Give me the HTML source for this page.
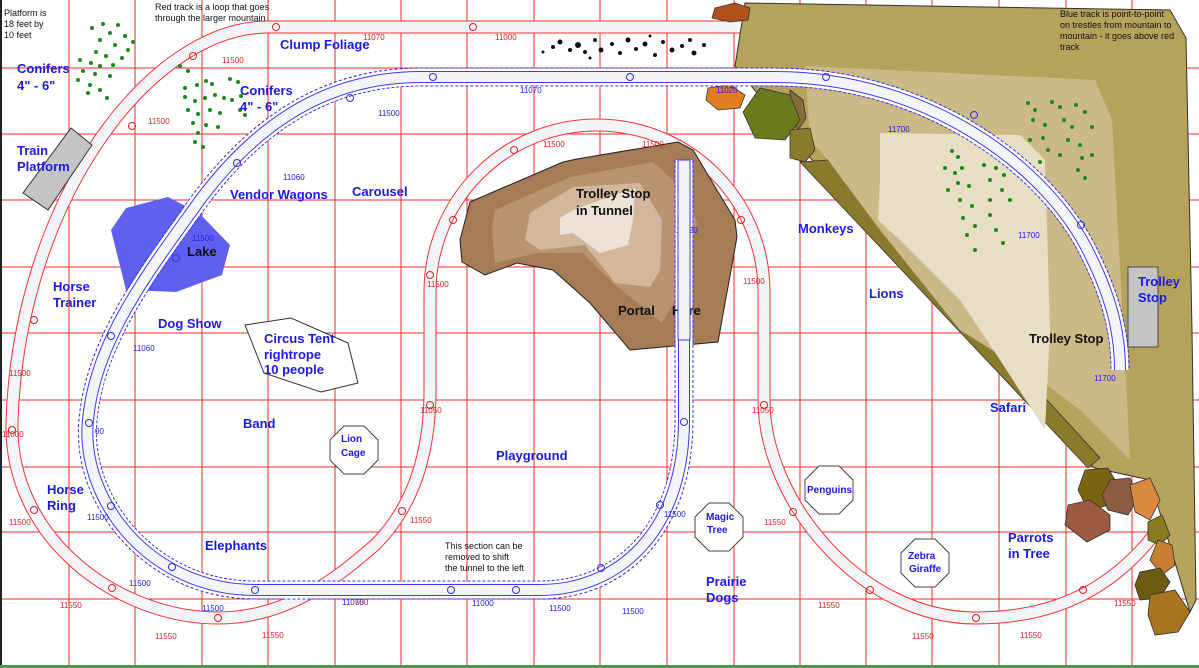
<!DOCTYPE html>
<html><head><meta charset="utf-8"><style>
html,body{margin:0;padding:0;background:#fff}
svg{display:block}
.b{font-family:"Liberation Sans",sans-serif;font-weight:bold;fill:#1a1aee;font-size:13px}
.k{font-family:"Liberation Sans",sans-serif;font-weight:bold;fill:#111;font-size:13px}
.s{font-family:"Liberation Sans",sans-serif;fill:#111;font-size:9px}
.r{font-family:"Liberation Sans",sans-serif;fill:#e02020;font-size:8px}
.u{font-family:"Liberation Sans",sans-serif;fill:#2020e0;font-size:8px}
</style></head><body>
<svg width="1199" height="668" viewBox="0 0 1199 668" xmlns="http://www.w3.org/2000/svg">
<defs>
<path id="rt" d="M740 27 L268 27 C150 27 20 200 12 420 C8 540 120 618 218 618 C290 618 340 575 375 545 C415 505 430 450 430 390 L430 292 A167 167 0 0 1 764 292 L764 400 C764 500 860 618 976 618 C1060 618 1120 585 1165 520" fill="none"/>
<path id="bt" d="M684 160 L684 420 C684 530 620 590 540 590 L255 590 C150 590 80 500 88 420 C95 340 150 270 200 200 C260 120 330 77 421 77 L775 77 C930 77 1050 170 1090 255 C1115 305 1120 340 1120 370" fill="none"/>
</defs>
<rect width="1199" height="668" fill="#fff"/>
<g stroke="#ff2a2a" stroke-width="1">
<path d="M69 0V666M135 0V666M202 0V666M268 0V666M335 0V666M401 0V666M467 0V666M534 0V666M600 0V666M667 0V666M734 0V666M800 0V666M866 0V666M932 0V666M999 0V666M1066 0V666M1132 0V666"/>
<path d="M0 68H1199M0 134H1199M0 200H1199M0 267H1199M0 333H1199M0 400H1199M0 467H1199M0 532H1199M0 599H1199"/>
</g>
<rect x="0" y="0" width="2" height="668" fill="#222"/>
<rect x="0" y="665" width="1199" height="3" fill="#4a9a4a"/>
<!-- red track -->
<use href="#rt" stroke="#ff3030" stroke-width="13"/>
<use href="#rt" stroke="#f3f5f8" stroke-width="11"/>
<g fill="none" stroke="#e02020" stroke-width="1">
<circle cx="276" cy="27" r="3.5"/><circle cx="473" cy="27" r="3.5"/><circle cx="193" cy="56" r="3.5"/><circle cx="132" cy="126" r="3.5"/><circle cx="34" cy="320" r="3.5"/><circle cx="12" cy="430" r="3.5"/><circle cx="34" cy="510" r="3.5"/><circle cx="112" cy="588" r="3.5"/><circle cx="218" cy="618" r="3.5"/><circle cx="402" cy="511" r="3.5"/><circle cx="430" cy="405" r="3.5"/><circle cx="430" cy="275" r="3.5"/><circle cx="453" cy="220" r="3.5"/><circle cx="514" cy="150" r="3.5"/><circle cx="681" cy="150" r="3.5"/><circle cx="741" cy="220" r="3.5"/><circle cx="764" cy="405" r="3.5"/><circle cx="793" cy="512" r="3.5"/><circle cx="870" cy="590" r="3.5"/><circle cx="976" cy="618" r="3.5"/><circle cx="1083" cy="590" r="3.5"/>
</g>
<!-- black dots clump -->
<g fill="#111">
<circle cx="553" cy="47" r="2"/><circle cx="560" cy="42" r="2.5"/><circle cx="570" cy="50" r="2"/><circle cx="578" cy="45" r="3"/><circle cx="585" cy="52" r="2"/><circle cx="595" cy="40" r="2"/><circle cx="601" cy="50" r="2.5"/><circle cx="612" cy="44" r="2"/><circle cx="620" cy="53" r="2"/><circle cx="628" cy="40" r="2.5"/><circle cx="636" cy="49" r="2"/><circle cx="645" cy="44" r="2.5"/><circle cx="655" cy="55" r="2"/><circle cx="663" cy="42" r="2"/><circle cx="672" cy="50" r="2.5"/><circle cx="682" cy="46" r="2"/><circle cx="690" cy="40" r="2"/><circle cx="694" cy="53" r="2.5"/><circle cx="704" cy="45" r="2"/><circle cx="543" cy="52" r="1.5"/><circle cx="590" cy="58" r="1.5"/><circle cx="650" cy="36" r="1.5"/>
</g>
<!-- right mountain -->
<polygon points="745,3 1170,10 1186,38 1192,330 1196,600 1190,612 1150,480 1095,468 1085,462 805,152 735,66" fill="#b5a25b" stroke="#333" stroke-width="1"/>
<polygon points="800,162 828,160 1100,458 1088,468" fill="#8a7a2c" stroke="#333" stroke-width="0.8"/>
<polygon points="805,66 1095,80 1112,120 1125,360 1130,460 1080,410 1040,380 960,330 880,230 828,160 810,140" fill="#cbba88"/>
<polygon points="880,133 1020,135 1045,160 1050,330 1045,430 1000,360 960,300 900,240 878,220 880,180" fill="#e7dec4"/>
<!-- rocks top -->
<polygon points="715,8 735,3 750,8 748,20 730,22 712,18" fill="#b0501a" stroke="#333" stroke-width="0.8"/>
<polygon points="708,88 730,85 745,95 740,108 718,110 706,100" fill="#e07d22" stroke="#333" stroke-width="0.8"/>
<polygon points="790,90 803,100 806,118 798,130 790,118" fill="#8b6a3a" stroke="#333" stroke-width="0.8"/>
<polygon points="760,88 790,95 800,120 785,140 755,138 743,112" fill="#6b7a1c" stroke="#333" stroke-width="0.8"/>
<polygon points="790,130 810,128 815,150 805,162 790,158" fill="#8a7a2c" stroke="#333" stroke-width="0.8"/>
<!-- rocks bottom right -->
<polygon points="1085,470 1108,468 1118,485 1110,505 1088,510 1078,490" fill="#7a6410" stroke="#333" stroke-width="0.8"/>
<polygon points="1068,505 1090,500 1110,515 1110,530 1087,542 1065,525" fill="#9c5a40" stroke="#333" stroke-width="0.8"/>
<polygon points="1110,480 1130,478 1138,498 1128,515 1108,510 1102,495" fill="#8c5c40" stroke="#333" stroke-width="0.8"/>
<polygon points="1130,485 1150,478 1160,500 1150,520 1135,512" fill="#d98a40" stroke="#333" stroke-width="0.8"/>
<polygon points="1148,522 1162,515 1170,535 1160,545 1148,540" fill="#8a7a20" stroke="#333" stroke-width="0.8"/>
<polygon points="1158,540 1172,545 1175,565 1162,575 1150,560" fill="#c88030" stroke="#333" stroke-width="0.8"/>
<polygon points="1140,572 1160,568 1170,582 1160,598 1140,600 1135,585" fill="#6c5a10" stroke="#333" stroke-width="0.8"/>
<polygon points="1150,595 1175,590 1190,612 1178,632 1155,635 1148,615" fill="#a87420" stroke="#333" stroke-width="0.8"/>
<!-- green trees -->
<g fill="#1a8a1a">
<circle cx="92" cy="28" r="2"/><circle cx="103" cy="24" r="2"/><circle cx="118" cy="25" r="2"/><circle cx="125" cy="36" r="2"/><circle cx="110" cy="33" r="2"/><circle cx="100" cy="40" r="2"/><circle cx="115" cy="45" r="2"/><circle cx="128" cy="50" r="2"/><circle cx="96" cy="52" r="2"/><circle cx="106" cy="56" r="2"/><circle cx="122" cy="58" r="2"/><circle cx="80" cy="60" r="2"/><circle cx="91" cy="63" r="2"/><circle cx="100" cy="66" r="2"/><circle cx="113" cy="65" r="2"/><circle cx="83" cy="71" r="2"/><circle cx="95" cy="74" r="2"/><circle cx="110" cy="76" r="2"/><circle cx="78" cy="80" r="2"/><circle cx="90" cy="85" r="2"/><circle cx="100" cy="90" r="2"/><circle cx="88" cy="93" r="2"/><circle cx="107" cy="98" r="2"/><circle cx="133" cy="42" r="2"/>
<circle cx="180" cy="66" r="2"/><circle cx="188" cy="71" r="2"/><circle cx="185" cy="88" r="2"/><circle cx="197" cy="85" r="2"/><circle cx="206" cy="81" r="2"/><circle cx="212" cy="84" r="2"/><circle cx="230" cy="79" r="2"/><circle cx="238" cy="82" r="2"/><circle cx="185" cy="97" r="2"/><circle cx="195" cy="101" r="2"/><circle cx="205" cy="98" r="2"/><circle cx="215" cy="95" r="2"/><circle cx="224" cy="98" r="2"/><circle cx="232" cy="100" r="2"/><circle cx="241" cy="96" r="2"/><circle cx="188" cy="110" r="2"/><circle cx="198" cy="114" r="2"/><circle cx="210" cy="110" r="2"/><circle cx="220" cy="113" r="2"/><circle cx="240" cy="110" r="2"/><circle cx="245" cy="115" r="2"/><circle cx="193" cy="123" r="2"/><circle cx="206" cy="125" r="2"/><circle cx="218" cy="127" r="2"/><circle cx="198" cy="133" r="2"/><circle cx="195" cy="142" r="2"/><circle cx="203" cy="147" r="2"/>
<circle cx="1028" cy="103" r="2"/><circle cx="1035" cy="110" r="2"/><circle cx="1052" cy="102" r="2"/><circle cx="1060" cy="107" r="2"/><circle cx="1076" cy="105" r="2"/><circle cx="1085" cy="112" r="2"/><circle cx="1033" cy="120" r="2"/><circle cx="1045" cy="125" r="2"/><circle cx="1064" cy="120" r="2"/><circle cx="1072" cy="127" r="2"/><circle cx="1092" cy="127" r="2"/><circle cx="1030" cy="140" r="2"/><circle cx="1043" cy="138" r="2"/><circle cx="1068" cy="140" r="2"/><circle cx="1080" cy="145" r="2"/><circle cx="1048" cy="150" r="2"/><circle cx="1060" cy="155" r="2"/><circle cx="1082" cy="158" r="2"/><circle cx="1092" cy="155" r="2"/><circle cx="1040" cy="162" r="2"/><circle cx="1078" cy="170" r="2"/><circle cx="1085" cy="178" r="2"/>
<circle cx="952" cy="151" r="2"/><circle cx="958" cy="157" r="2"/><circle cx="945" cy="168" r="2"/><circle cx="955" cy="173" r="2"/><circle cx="962" cy="168" r="2"/><circle cx="984" cy="165" r="2"/><circle cx="996" cy="168" r="2"/><circle cx="958" cy="183" r="2"/><circle cx="969" cy="186" r="2"/><circle cx="948" cy="190" r="2"/><circle cx="990" cy="180" r="2"/><circle cx="1004" cy="175" r="2"/><circle cx="960" cy="200" r="2"/><circle cx="972" cy="206" r="2"/><circle cx="990" cy="200" r="2"/><circle cx="1002" cy="190" r="2"/><circle cx="963" cy="218" r="2"/><circle cx="975" cy="226" r="2"/><circle cx="990" cy="215" r="2"/><circle cx="1010" cy="200" r="2"/><circle cx="967" cy="235" r="2"/><circle cx="996" cy="230" r="2"/><circle cx="1003" cy="243" r="2"/><circle cx="975" cy="250" r="2"/>
</g>
<!-- brown central mountain -->
<polygon points="470,202 563,162 577,159 678,142 693,150 735,220 737,237 718,342 630,350 590,303 553,270 517,263 485,275 462,262 460,240" fill="#a57c55" stroke="#222" stroke-width="1"/>
<polygon points="495,210 570,177 653,162 673,180 688,197 697,223 677,297 662,323 613,283 583,253 537,253 495,263 492,230" fill="#b99470"/>
<polygon points="530,213 573,187 640,183 662,220 660,270 650,287 615,283 585,245 540,250 525,240" fill="#d3b79c"/>
<polygon points="560,218 573,210 635,188 633,220 628,245 600,253 573,233 560,235" fill="#ece2d8"/>
<!-- lake -->
<polygon points="111,230 126,208 168,197 199,213 230,245 222,275 176,292 126,290" fill="#6060f0"/>
<!-- platform -->
<polygon points="71,128 92,145 48,210 23,193" fill="#c4c4c4" stroke="#333" stroke-width="1"/>
<rect x="1128" y="267" width="30" height="80" fill="#c4c4c4" stroke="#333" stroke-width="0.8"/>
<!-- circus tent -->
<polygon points="245,325 291,318 348,343 358,383 321,392 264,373" fill="#fff" stroke="#333" stroke-width="1"/>
<!-- octagons -->
<g fill="#fff" stroke="#444" stroke-width="1">
<polygon points="344,426 364,426 378,440 378,460 364,474 344,474 330,460 330,440"/>
<polygon points="819,466 839,466 853,480 853,500 839,514 819,514 805,500 805,480"/>
<polygon points="709,503 729,503 743,517 743,537 729,551 709,551 695,537 695,517"/>
<polygon points="915,539 935,539 949,553 949,573 935,587 915,587 901,573 901,553"/>
</g>
<!-- blue track -->
<use href="#bt" stroke="#3030f0" stroke-width="19" stroke-dasharray="3 2"/>
<use href="#bt" stroke="#fff" stroke-width="17"/>
<use href="#bt" stroke="#3a3af0" stroke-width="12"/>
<use href="#bt" stroke="#f4f5fb" stroke-width="10"/>
<g fill="none" stroke="#3030e0" stroke-width="1">
<circle cx="433" cy="77" r="3.5"/><circle cx="630" cy="77" r="3.5"/><circle cx="826" cy="77" r="3.5"/><circle cx="350" cy="98" r="3.5"/><circle cx="237" cy="163" r="3.5"/><circle cx="176" cy="258" r="3.5"/><circle cx="111" cy="336" r="3.5"/><circle cx="89" cy="423" r="3.5"/><circle cx="111" cy="506" r="3.5"/><circle cx="172" cy="567" r="3.5"/><circle cx="255" cy="590" r="3.5"/><circle cx="451" cy="590" r="3.5"/><circle cx="516" cy="590" r="3.5"/><circle cx="601" cy="568" r="3.5"/><circle cx="660" cy="505" r="3.5"/><circle cx="684" cy="422" r="3.5"/><circle cx="684" cy="228" r="3.5"/><circle cx="974" cy="115" r="3.5"/><circle cx="1081" cy="225" r="3.5"/>
</g>
<!-- small numbers -->
<g class="r">
<text x="363" y="40">11070</text><text x="495" y="40">11000</text><text x="222" y="63">11500</text><text x="148" y="124">11500</text><text x="543" y="147">11500</text><text x="642" y="147">11500</text><text x="427" y="287">11500</text><text x="743" y="284">11500</text><text x="9" y="376">11500</text><text x="2" y="437">11000</text><text x="420" y="413">11050</text><text x="752" y="413">11050</text><text x="9" y="525">11500</text><text x="410" y="523">11550</text><text x="764" y="525">11550</text><text x="60" y="608">11550</text><text x="155" y="639">11550</text><text x="262" y="638">11550</text><text x="355" y="605">550</text><text x="818" y="608">11550</text><text x="912" y="639">11550</text><text x="1020" y="638">11550</text><text x="1114" y="606">11550</text>
</g>
<g class="u">
<text x="520" y="93">11070</text><text x="378" y="116">11500</text><text x="283" y="180">11060</text><text x="192" y="241">11500</text><text x="133" y="351">11060</text><text x="95" y="434">00</text><text x="87" y="520">11500</text><text x="129" y="586">11500</text><text x="202" y="611">11500</text><text x="342" y="605">11070</text><text x="472" y="606">11000</text><text x="549" y="611">11500</text><text x="664" y="517">11500</text><text x="622" y="614">11500</text><text x="716" y="93">11020</text><text x="888" y="132">11700</text><text x="1018" y="238">11700</text><text x="1094" y="381">11700</text><text x="676" y="233">11020</text>
</g>
<!-- labels -->
<g class="b">
<text x="17" y="73">Conifers</text><text x="17" y="90">4" - 6"</text>
<text x="280" y="49">Clump Foliage</text>
<text x="240" y="95">Conifers</text><text x="240" y="111">4" - 6"</text>
<text x="17" y="155">Train</text><text x="17" y="171">Platform</text>
<text x="230" y="199">Vendor Wagons</text>
<text x="352" y="196">Carousel</text>
<text x="53" y="291">Horse</text><text x="53" y="307">Trainer</text>
<text x="158" y="328">Dog Show</text>
<text x="264" y="343">Circus Tent</text><text x="264" y="359">rightrope</text><text x="264" y="374">10 people</text>
<text x="243" y="428">Band</text>
<text x="496" y="460">Playground</text>
<text x="47" y="494">Horse</text><text x="47" y="510">Ring</text>
<text x="205" y="550">Elephants</text>
<text x="706" y="586">Prairie</text><text x="706" y="602">Dogs</text>
<text x="1008" y="542">Parrots</text><text x="1008" y="558">in Tree</text>
<text x="990" y="412">Safari</text>
<text x="869" y="298">Lions</text>
<text x="798" y="233">Monkeys</text>
<text x="1138" y="286">Trolley</text><text x="1138" y="302">Stop</text>
</g>
<g class="b" style="font-size:10px">
<text x="341" y="442">Lion</text><text x="341" y="456">Cage</text>
<text x="807" y="493">Penguins</text>
<text x="706" y="520">Magic</text><text x="707" y="533">Tree</text>
<text x="908" y="559">Zebra</text><text x="909" y="572">Giraffe</text>
</g>
<g class="k">
<text x="187" y="256">Lake</text>
<text x="576" y="198">Trolley Stop</text><text x="576" y="215">in Tunnel</text>
<text x="618" y="315">Portal</text><text x="672" y="315">Here</text>
<text x="1029" y="343">Trolley Stop</text>
</g>
<rect x="678" y="160" width="12" height="180" fill="#f4f5fb" stroke="#3a3af0" stroke-width="1"/>
<g class="s">
<text x="4" y="16">Platform is</text><text x="4" y="27">18 feet by</text><text x="4" y="38">10 feet</text>
<text x="155" y="10">Red track is a loop that goes</text><text x="155" y="21">through the larger mountain</text>
<text x="1060" y="17">Blue track is point-to-point</text><text x="1060" y="28">on trestles from mountain to</text><text x="1060" y="39">mountain - it goes above red</text><text x="1060" y="50">track</text>
<text x="445" y="549">This section can be</text><text x="445" y="560">removed to shift</text><text x="445" y="571">the tunnel to the left</text>
</g>
</svg>
</body></html>
